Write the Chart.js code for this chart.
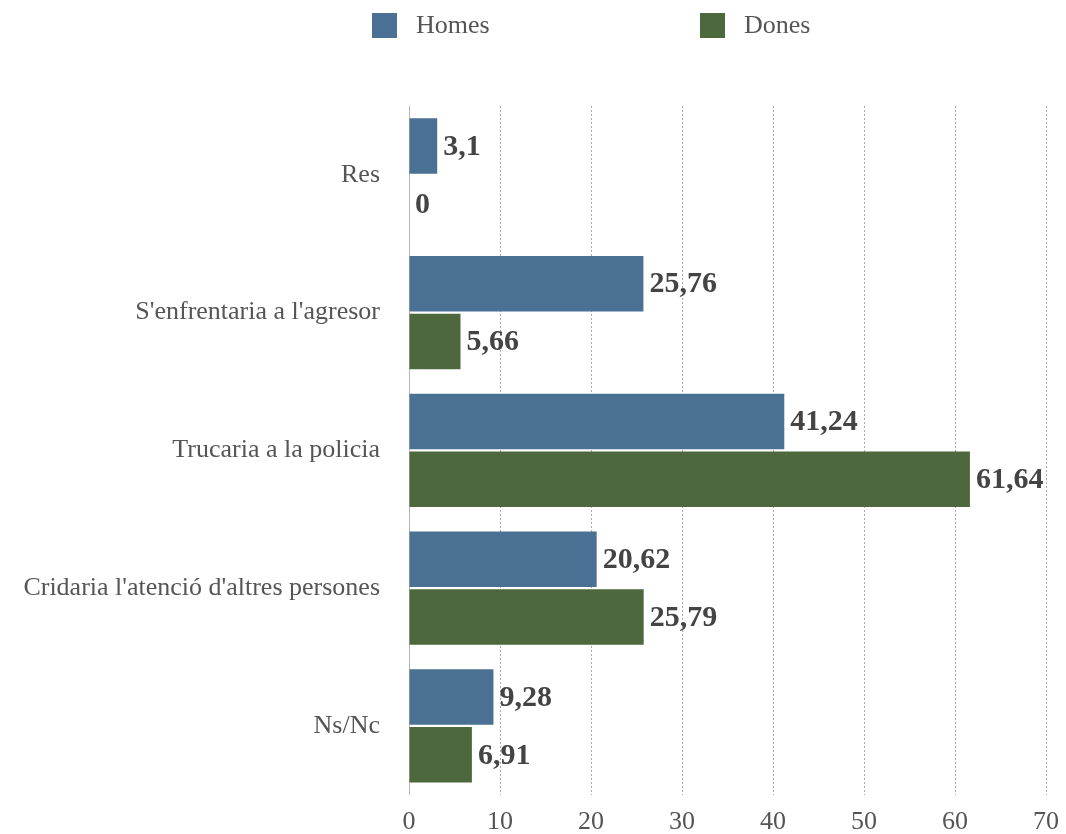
<!DOCTYPE html>
<html>
<head>
<meta charset="utf-8">
<script src="https://cdn.jsdelivr.net/npm/chart.js@4/dist/chart.umd.min.js"></script>
<style>
  body { margin: 0; background: #fff; }
  #wrap { position: relative; width: 1066px; height: 834px; overflow: hidden; }
  .legend-item { position: absolute; top: 10px; display: flex; align-items: center; font-family: "Liberation Serif", serif; font-size: 26px; color: #555; }
  .legend-box { width: 25px; height: 25px; margin-right: 19px; }
</style>
</head>
<body>
<div id="wrap">
  <div class="legend-item" style="left:372px"><span class="legend-box" style="background:#4a7094"></span>Homes</div>
  <div class="legend-item" style="left:700px"><span class="legend-box" style="background:#4d683c"></span>Dones</div>
  <canvas id="chart" width="1066" height="850"></canvas>
</div>
<script>
const categories = ['Res', "S'enfrentaria a l'agresor", 'Trucaria a la policia', "Cridaria l'atenció d'altres persones", 'Ns/Nc'];
const homes = [3.1, 25.76, 41.24, 20.62, 9.28];
const dones = [0, 5.66, 61.64, 25.79, 6.91];
const seriesNames = ['Homes', 'Dones'];
const colors = ['#4a7094', '#4d683c'];

// draws the value at the end of each bar
const valueLabels = {
    id: 'valueLabels',
    afterDatasetsDraw(chart) {
        const ctx = chart.ctx;
        ctx.save();
        ctx.font = 'bold 30px "Liberation Serif", serif';
        ctx.fillStyle = '#444';
        ctx.textBaseline = 'middle';
        ctx.textAlign = 'left';
        chart.data.datasets.forEach((ds, i) => {
            chart.getDatasetMeta(i).data.forEach((bar, j) => {
                const text = String(ds.data[j]).replace('.', ',');
                ctx.fillText(text, bar.x + 6, bar.y + 1);
            });
        });
        ctx.restore();
    }
};

new Chart(document.getElementById('chart'), {
    type: 'bar',
    data: {
        labels: categories,
        datasets: [
            { label: seriesNames[0], data: homes, backgroundColor: colors[0] },
            { label: seriesNames[1], data: dones, backgroundColor: colors[1] }
        ]
    },
    options: {
        indexAxis: 'y',
        responsive: false,
        animation: false,
        categoryPercentage: 0.84,
        barPercentage: 0.96,
        layout: { padding: { top: 106, right: 20, left: 0, bottom: 0 } },
        plugins: {
            legend: { display: false },
            tooltip: { enabled: false }
        },
        scales: {
            x: {
                min: 0,
                max: 70,
                ticks: {
                    stepSize: 10,
                    padding: 12,
                    color: '#555',
                    font: { family: '"Liberation Serif", serif', size: 26 }
                },
                grid: {
                    drawTicks: false,
                    color: ctx => ctx.tick && ctx.tick.value === 0 ? 'rgba(0,0,0,0)' : '#aaa'
                },
                border: { display: false, dash: [2, 2] },
                afterFit(scale) { scale.paddingRight = 0; scale.paddingLeft = 0; }
            },
            y: {
                grid: { display: false, drawTicks: false },
                border: { display: true, color: '#b5b5b5', width: 1 },
                ticks: {
                    padding: 29,
                    color: '#555',
                    font: { family: '"Liberation Serif", serif', size: 26 }
                },
                afterFit(scale) { scale.width = 409; }
            }
        }
    },
    plugins: [valueLabels]
});
</script>
</body>
</html>
